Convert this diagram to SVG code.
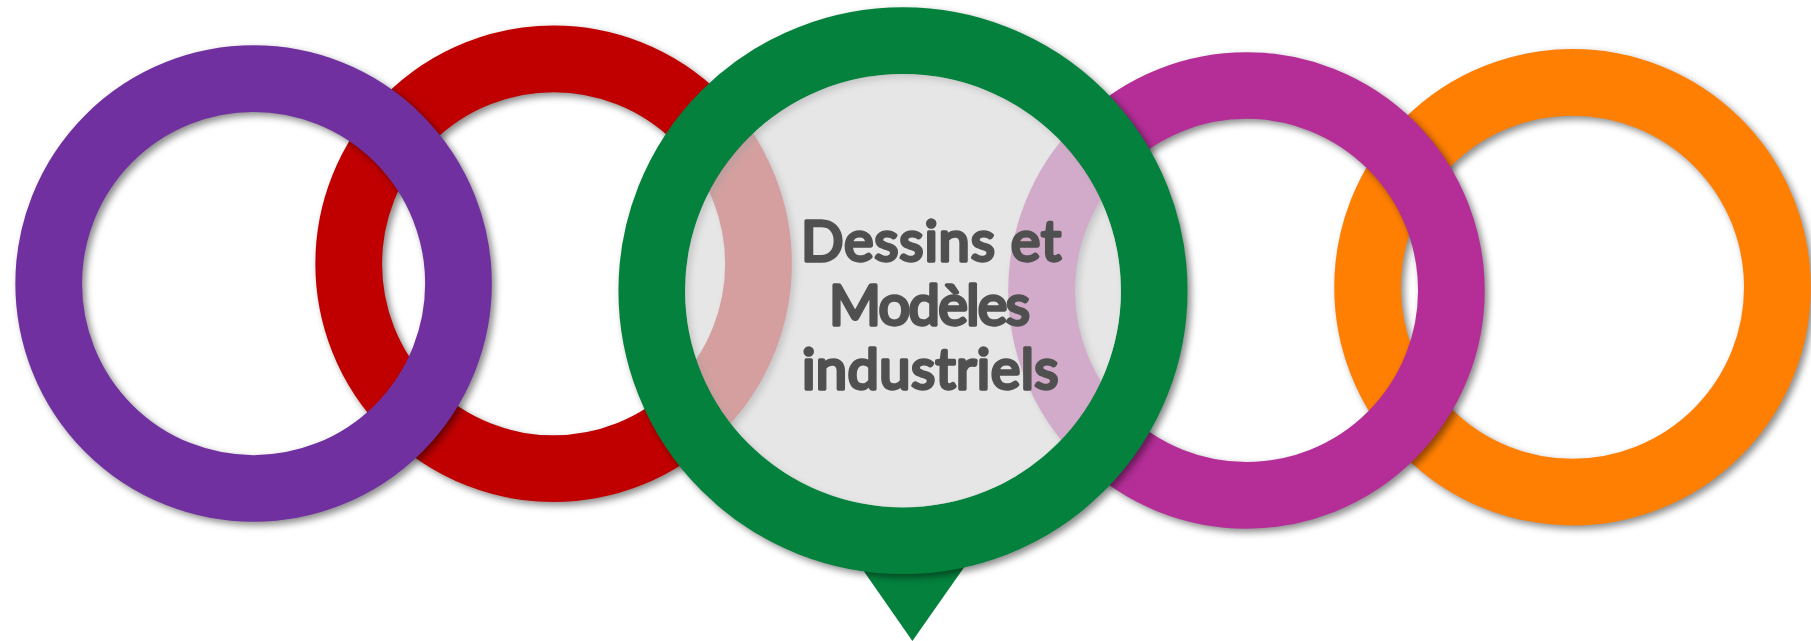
<svg xmlns="http://www.w3.org/2000/svg" width="1811" height="641" viewBox="0 0 1811 641">
  <style>
    .ring { fill: none; stroke-width: 66.7; filter: url(#shadow); }
    .label { font-family: "Lato", "Liberation Sans", sans-serif; font-weight: 400; font-size: 56px; fill: #505050; stroke: #505050; stroke-width: 3.4; stroke-linejoin: round; stroke-linecap: round; text-anchor: start; }
  </style>
  <defs>
    <filter id="shadow" x="-10%" y="-10%" width="125%" height="125%" color-interpolation-filters="sRGB">
      <feDropShadow dx="3.5" dy="3.5" stdDeviation="3.5" flood-color="#000" flood-opacity="0.45"/>
    </filter>
  </defs>
  <rect width="1811" height="641" fill="#ffffff"/>
  <g id="ring-orange"><circle class="ring" cx="1572.5" cy="287.2" r="204.9" stroke="#ff7f03"/></g>
  <g id="ring-red"><circle class="ring" cx="553.6" cy="263.8" r="204.9" stroke="#c00000"/></g>
  <g id="ring-magenta"><circle class="ring" cx="1246.5" cy="290.4" r="204.9" stroke="#b52e98"/></g>
  <g id="ring-purple"><circle class="ring" cx="253.6" cy="283.6" r="204.9" stroke="#7030a0"/></g>
  <g id="pin-green">
    <polygon points="856,560 972,556 912.4,641" fill="#04823d"/>
    <ellipse class="ring" cx="903" cy="290.7" rx="251.2" ry="250" stroke="#04823d"/>
    <ellipse cx="903" cy="290.7" rx="218" ry="216.8" fill="#dcdcdc" fill-opacity="0.72"/>
    <text class="label" x="801" y="261" textLength="260" lengthAdjust="spacing">Dessins et</text>
    <text class="label" x="829" y="325" textLength="201" lengthAdjust="spacing">Modèles</text>
    <text class="label" x="802" y="389" textLength="256.5" lengthAdjust="spacing">industriels</text>
  </g>
  <g id="connectors"/>
</svg>
